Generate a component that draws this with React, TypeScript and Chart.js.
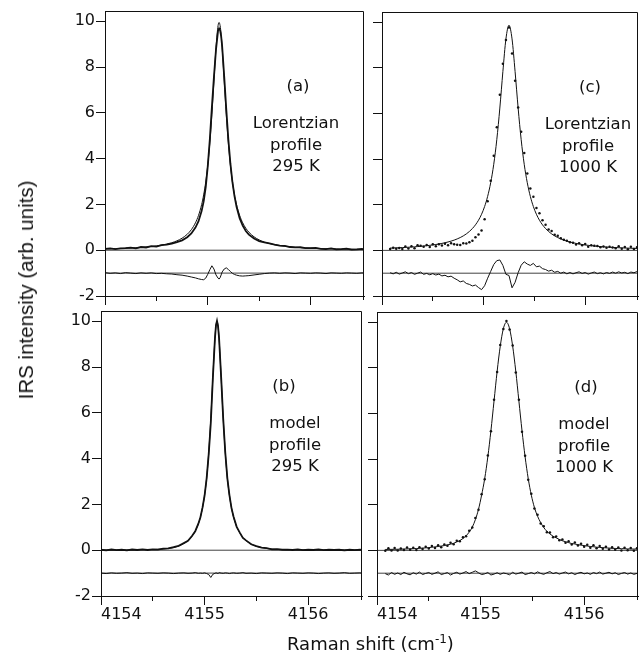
import React, { useEffect, useRef } from 'react';
import { Chart, registerables } from 'chart.js';

Chart.register(...registerables);

// ---------- axes ----------
const X_MIN = 4154;
const X_MAX = 4156.52;
const Y_MIN = -2;
const Y_MAX = 10.45;
const X_STEP = 0.5;
const Y_STEP = 2;
const X_TICK_LABELS = [4154, 4155, 4156];
const REF_LEVELS = [0, -1];

// ---------- 295 K panels (a), (b) ----------
const X_COLD = [
  4154.0, 4154.05, 4154.1, 4154.15, 4154.2, 4154.25, 4154.3, 4154.35, 4154.4, 4154.45,
  4154.5, 4154.55, 4154.6, 4154.65, 4154.7, 4154.75, 4154.8, 4154.84, 4154.88, 4154.91,
  4154.94, 4154.96, 4154.98, 4155.0, 4155.02, 4155.04, 4155.06, 4155.08, 4155.1, 4155.11,
  4155.12, 4155.13, 4155.14, 4155.16, 4155.18, 4155.2, 4155.22, 4155.24, 4155.26, 4155.28,
  4155.31, 4155.34, 4155.37, 4155.4, 4155.45, 4155.5, 4155.55, 4155.6, 4155.65, 4155.7,
  4155.75, 4155.8, 4155.85, 4155.9, 4155.95, 4156.0, 4156.05, 4156.1, 4156.15, 4156.2,
  4156.25, 4156.3, 4156.35, 4156.4, 4156.45, 4156.5, 4156.53,
];

const A_DATA = [
  0.06, 0.08, 0.05, 0.08, 0.09, 0.11, 0.08, 0.14, 0.12, 0.18,
  0.16, 0.22, 0.24, 0.29, 0.35, 0.43, 0.57, 0.73, 0.99, 1.27,
  1.71, 2.13, 2.76, 3.67, 4.84, 6.25, 7.57, 8.77, 9.59, 9.69,
  9.61, 9.35, 8.9, 7.57, 6.16, 4.85, 3.79, 2.97, 2.36, 1.9,
  1.4, 1.07, 0.84, 0.68, 0.51, 0.4, 0.34, 0.3, 0.24, 0.2,
  0.19, 0.14, 0.12, 0.13, 0.09, 0.09, 0.1, 0.06, 0.05, 0.08,
  0.04, 0.05, 0.07, 0.03, 0.04, 0.06, 0.03,
];
const A_FIT = [
  0.058, 0.064, 0.07, 0.077, 0.086, 0.096, 0.108, 0.123, 0.141, 0.162,
  0.19, 0.224, 0.269, 0.328, 0.41, 0.525, 0.696, 0.897, 1.196, 1.522,
  1.99, 2.419, 2.98, 3.72, 4.69, 5.93, 7.39, 8.85, 9.81, 9.95,
  9.81, 9.43, 8.85, 7.39, 5.93, 4.69, 3.72, 2.98, 2.419, 1.99,
  1.522, 1.196, 0.96, 0.787, 0.585, 0.451, 0.358, 0.291, 0.24, 0.202,
  0.172, 0.149, 0.13, 0.114, 0.101, 0.09, 0.081, 0.073, 0.066, 0.06,
  0.055, 0.0505, 0.0466, 0.043, 0.04, 0.037, 0.0355,
];
const A_RESID = [
  -0.98, -1.01, -0.99, -1.02, -0.98, -1.0, -1.02, -0.99, -1.01, -0.99,
  -1.02, -1.01, -1.03, -1.04, -1.07, -1.09, -1.13, -1.17, -1.21, -1.25,
  -1.28, -1.29, -1.22, -1.05, -0.85, -0.68, -0.82, -1.08, -1.22, -1.26,
  -1.2, -1.08, -0.95, -0.82, -0.77, -0.84, -0.93, -1.01, -1.06, -1.09,
  -1.12, -1.13, -1.12, -1.11, -1.08, -1.05, -1.02, -1.0, -0.99, -1.01,
  -0.99, -1.0, -1.02, -0.99, -1.0, -1.01, -0.99, -1.0, -1.02, -0.99,
  -1.0, -1.01, -0.99, -1.0, -1.01, -0.99, -1.0,
];

const B_DATA = [
  0.02, -0.01, 0.03, 0.0, 0.02, -0.01, 0.03, 0.01, 0.04, 0.01,
  0.04, 0.03, 0.07, 0.08, 0.13, 0.19, 0.31, 0.41, 0.63, 0.83,
  1.16, 1.44, 1.86, 2.38, 3.14, 4.2, 5.56, 7.52, 9.24, 9.82,
  10.02, 9.79, 9.26, 7.56, 5.74, 4.26, 3.14, 2.41, 1.84, 1.46,
  1.02, 0.77, 0.54, 0.43, 0.26, 0.18, 0.11, 0.09, 0.04, 0.05,
  0.02, 0.03, 0.01, 0.03, 0.0, 0.02, 0.01, 0.03, 0.0, 0.02,
  0.01, 0.02, -0.01, 0.02, 0.0, 0.02, 0.01,
];
const B_FIT = [
  0.01, 0.01, 0.01, 0.01, 0.01, 0.01, 0.015, 0.015, 0.02, 0.025,
  0.03, 0.04, 0.05, 0.08, 0.11, 0.19, 0.3, 0.42, 0.62, 0.84,
  1.15, 1.45, 1.85, 2.4, 3.15, 4.25, 5.75, 7.55, 9.25, 9.8,
  10.0, 9.8, 9.25, 7.55, 5.75, 4.25, 3.15, 2.4, 1.85, 1.45,
  1.03, 0.76, 0.55, 0.42, 0.27, 0.17, 0.12, 0.08, 0.05, 0.035,
  0.03, 0.02, 0.02, 0.015, 0.01, 0.01, 0.01, 0.01, 0.01, 0.01,
  0.01, 0.01, 0.01, 0.01, 0.01, 0.01, 0.01,
];
const B_RESID = [
  -1.0, -1.02, -0.99, -1.01, -1.0, -0.98, -1.01, -1.0, -1.02, -0.99,
  -1.0, -1.01, -0.99, -1.0, -1.02, -1.0, -0.99, -1.01, -1.0, -0.98,
  -1.01, -1.0, -1.01, -0.99, -1.02, -1.06, -1.19, -1.05, -1.01, -0.99,
  -1.0, -1.02, -0.98, -1.0, -1.01, -0.99, -1.0, -1.02, -1.0, -0.99,
  -1.01, -1.0, -0.98, -1.01, -1.0, -1.02, -0.99, -1.0, -1.01, -0.99,
  -1.0, -1.02, -0.99, -1.0, -1.01, -0.99, -1.0, -1.02, -1.0, -0.99,
  -1.01, -1.0, -0.98, -1.01, -1.0, -0.99, -1.01,
];

// ---------- 1000 K panels (c), (d) ----------
const X_HOT = [
  4154.08, 4154.11, 4154.14, 4154.17, 4154.2, 4154.23, 4154.26, 4154.29, 4154.32, 4154.35,
  4154.38, 4154.41, 4154.44, 4154.47, 4154.5, 4154.53, 4154.56, 4154.59, 4154.62, 4154.65,
  4154.68, 4154.71, 4154.74, 4154.77, 4154.8, 4154.83, 4154.86, 4154.89, 4154.92, 4154.95,
  4154.98, 4155.01, 4155.04, 4155.07, 4155.1, 4155.13, 4155.16, 4155.19, 4155.22, 4155.25,
  4155.28, 4155.31, 4155.34, 4155.37, 4155.4, 4155.43, 4155.46, 4155.49, 4155.52, 4155.55,
  4155.58, 4155.61, 4155.64, 4155.67, 4155.7, 4155.73, 4155.76, 4155.79, 4155.82, 4155.85,
  4155.88, 4155.91, 4155.94, 4155.97, 4156.0, 4156.03, 4156.06, 4156.09, 4156.12, 4156.15,
  4156.18, 4156.21, 4156.24, 4156.27, 4156.3, 4156.33, 4156.36, 4156.39, 4156.42, 4156.45,
  4156.48, 4156.51,
];

const C_DATA = [
  0.06, 0.12, 0.07, 0.1, 0.06, 0.17, 0.08, 0.18, 0.09, 0.22,
  0.2, 0.16, 0.24, 0.15, 0.27, 0.18, 0.27, 0.21, 0.29, 0.23,
  0.31, 0.27, 0.25, 0.24, 0.31, 0.3, 0.36, 0.42, 0.58, 0.7,
  0.87, 1.37, 2.15, 3.05, 4.15, 5.4, 6.82, 8.18, 9.22, 9.77,
  8.63, 7.44, 6.26, 5.2, 4.27, 3.37, 2.71, 2.35, 1.86, 1.63,
  1.32, 1.12, 0.92, 0.85, 0.68, 0.64, 0.53, 0.47, 0.42, 0.36,
  0.33, 0.26, 0.31, 0.22, 0.28, 0.16, 0.23, 0.2, 0.19, 0.14,
  0.17, 0.12, 0.16, 0.13, 0.09, 0.18, 0.07, 0.15, 0.05, 0.16,
  0.06, 0.14,
];
const C_FIT = [
  0.099, 0.105, 0.11, 0.116, 0.123, 0.13, 0.138, 0.147, 0.156, 0.167,
  0.178, 0.191, 0.205, 0.221, 0.238, 0.258, 0.281, 0.306, 0.335, 0.368,
  0.406, 0.45, 0.502, 0.562, 0.635, 0.722, 0.828, 0.958, 1.119, 1.322,
  1.583, 1.921, 2.369, 2.967, 3.773, 4.853, 6.24, 7.842, 9.271, 9.87,
  9.271, 7.842, 6.24, 4.853, 3.773, 2.967, 2.369, 1.921, 1.583, 1.322,
  1.119, 0.958, 0.828, 0.722, 0.635, 0.562, 0.502, 0.45, 0.406, 0.368,
  0.335, 0.306, 0.281, 0.258, 0.238, 0.221, 0.205, 0.191, 0.178, 0.167,
  0.156, 0.147, 0.138, 0.13, 0.123, 0.116, 0.11, 0.105, 0.099, 0.095,
  0.09, 0.086,
];
const C_RESID = [
  -0.98, -1.03, -0.96, -1.04, -0.99, -0.94, -1.02, -0.97, -1.05, -1.0,
  -0.95, -1.05, -1.01, -1.07, -1.02, -1.08, -1.04, -1.12, -1.09, -1.16,
  -1.13, -1.22, -1.29, -1.38, -1.34, -1.45, -1.49, -1.56, -1.52, -1.63,
  -1.72, -1.55, -1.22, -0.92, -0.62, -0.45, -0.42, -0.66, -1.05, -1.1,
  -1.64, -1.4, -0.98, -0.65, -0.5, -0.6, -0.66, -0.57, -0.72, -0.69,
  -0.8, -0.84, -0.91, -0.87, -0.96, -0.92, -1.0, -0.95, -1.03, -0.97,
  -1.03, -0.98, -0.94, -1.01, -0.97, -1.04, -0.99, -0.95, -1.02, -0.98,
  -1.03, -0.97, -1.01, -0.95, -1.0, -0.94, -0.99, -0.96, -1.02, -0.95,
  -0.98, -0.93,
];

const D_DATA = [
  -0.02, 0.09, 0.0, 0.1, -0.01, 0.08, 0.02, 0.13, 0.03, 0.11,
  0.02, 0.14, 0.06, 0.16, 0.08, 0.19, 0.1, 0.22, 0.14, 0.26,
  0.2, 0.33, 0.27, 0.42, 0.4, 0.58, 0.62, 0.86, 1.0, 1.42,
  1.78, 2.46, 3.12, 4.16, 5.22, 6.6, 7.82, 9.0, 9.7, 10.05,
  9.68, 8.98, 7.8, 6.6, 5.2, 4.15, 3.1, 2.48, 1.84, 1.56,
  1.18, 1.06, 0.8, 0.78, 0.58, 0.61, 0.44, 0.48, 0.33, 0.4,
  0.26, 0.34, 0.21, 0.29, 0.16, 0.25, 0.12, 0.22, 0.09, 0.19,
  0.07, 0.16, 0.04, 0.14, 0.03, 0.13, 0.0, 0.12, 0.01, 0.1,
  -0.02, 0.09,
];
const D_FIT = [
  0.04, 0.043, 0.045, 0.048, 0.05, 0.055, 0.06, 0.065, 0.07, 0.075,
  0.08, 0.09, 0.1, 0.11, 0.12, 0.14, 0.15, 0.17, 0.19, 0.21,
  0.24, 0.27, 0.31, 0.37, 0.43, 0.52, 0.64, 0.8, 1.02, 1.35,
  1.8, 2.42, 3.15, 4.1, 5.25, 6.55, 7.85, 8.95, 9.72, 10.0,
  9.72, 8.95, 7.85, 6.55, 5.25, 4.1, 3.15, 2.42, 1.88, 1.5,
  1.22, 1.0, 0.84, 0.72, 0.62, 0.55, 0.48, 0.42, 0.38, 0.34,
  0.3, 0.28, 0.25, 0.23, 0.21, 0.19, 0.17, 0.16, 0.14, 0.13,
  0.12, 0.11, 0.1, 0.09, 0.085, 0.08, 0.075, 0.07, 0.065, 0.06,
  0.058, 0.055,
];
const D_RESID = [
  -1.02, -1.08, -0.97, -1.05, -0.99, -1.06, -0.96, -1.03, -1.07, -0.98,
  -1.04, -0.95, -1.06, -1.01, -0.97, -1.05, -1.0, -0.94, -1.06, -1.02,
  -0.97, -1.08, -1.01, -0.96, -1.04, -0.99, -0.93, -1.02, -0.96, -0.9,
  -0.98, -1.06, -1.03, -0.97, -1.08, -1.04, -0.98, -1.05, -0.99, -1.02,
  -1.07, -0.96, -1.04, -1.0, -0.95, -1.06, -1.02, -0.97, -1.03, -0.94,
  -1.01, -1.05, -0.98, -0.93, -1.02, -0.97, -1.04, -0.99, -0.95, -1.03,
  -0.98, -1.06, -1.0, -0.96, -1.03, -0.99, -1.05, -0.97, -1.02, -0.95,
  -1.04, -1.0, -0.96, -1.03, -0.98, -1.06, -1.01, -0.97, -1.04, -0.99,
  -1.05, -1.01,
];

// ---------- texts ----------
const PANEL_LABELS = ['(a)', '(b)', '(c)', '(d)'];
const PANEL_LINES = [
  ['Lorentzian', 'profile', '295 K'],
  ['model', 'profile', '295 K'],
  ['Lorentzian', 'profile', '1000 K'],
  ['model', 'profile', '1000 K'],
];

// ---------- layout / style ----------
const INK = '#111111';
const TICK_FONT = { family: 'DejaVu Sans', size: 16 };
const TEXT_FONT = '16.5px "DejaVu Sans"';
const LABEL_DY = 80;
const LINE_DY = [117, 139, 160];

type Spec = {
  idx: number;
  left: number;
  top: number;
  w: number;
  h: number;
  leftCol: boolean;
  bottomRow: boolean;
  labelDx: number;
  textDx: number;
  xs: number[];
  data: number[];
  fit: number[];
  resid: number[];
  dots: boolean;
};

const PANELS: Spec[] = [
  { idx: 0, left: 105, top: 11, w: 259, h: 285, leftCol: true, bottomRow: false, labelDx: 193, textDx: 191, xs: X_COLD, data: A_DATA, fit: A_FIT, resid: A_RESID, dots: false },
  { idx: 1, left: 101, top: 311, w: 261, h: 285, leftCol: true, bottomRow: true, labelDx: 183, textDx: 194, xs: X_COLD, data: B_DATA, fit: B_FIT, resid: B_RESID, dots: false },
  { idx: 2, left: 382, top: 12, w: 258, h: 284, leftCol: false, bottomRow: false, labelDx: 208, textDx: 206, xs: X_HOT, data: C_DATA, fit: C_FIT, resid: C_RESID, dots: true },
  { idx: 3, left: 377, top: 312, w: 263, h: 284, leftCol: false, bottomRow: true, labelDx: 209, textDx: 207, xs: X_HOT, data: D_DATA, fit: D_FIT, resid: D_RESID, dots: true },
];

const near = (a: number, b: number) => Math.abs(a - b) < 1e-6;
const isMajor = (v: number) => X_TICK_LABELS.some((l) => near(l, v));
// leading figure-width padding so that the first label starts at its tick
const FIRST_PAD = '        ';

function pts(xs: number[], ys: number[]) {
  return xs.map((x, i) => ({ x, y: ys[i] }));
}

function Panel({ s }: { s: Spec }) {
  const ref = useRef<HTMLCanvasElement | null>(null);
  const ML = s.leftCol ? s.left : 60;
  const MR = s.leftCol ? 3 : 2;
  const MT = 6;
  const MB = s.bottomRow ? 40 : 14;
  const W = ML + s.w + MR;
  const H = MT + s.h + MB;

  useEffect(() => {
    if (!ref.current) return;
    const boxPlugin = {
      id: 'panelBox',
      afterDatasetsDraw(chart: any) {
        const { ctx, chartArea } = chart;
        const { left, top, right, bottom } = chartArea;
        ctx.save();
        ctx.strokeStyle = INK;
        ctx.lineWidth = 1;
        ctx.beginPath();
        ctx.moveTo(Math.round(left), Math.round(top) + 0.5);
        ctx.lineTo(Math.round(right) - 0.5, Math.round(top) + 0.5);
        ctx.lineTo(Math.round(right) - 0.5, Math.round(bottom) + 4);
        ctx.stroke();
        ctx.restore();
      },
    };
    const textPlugin = {
      id: 'panelText',
      afterDraw(chart: any) {
        const { ctx, chartArea } = chart;
        ctx.save();
        ctx.fillStyle = INK;
        ctx.font = TEXT_FONT;
        ctx.textAlign = 'center';
        ctx.textBaseline = 'alphabetic';
        ctx.fillText(PANEL_LABELS[s.idx], chartArea.left + s.labelDx, chartArea.top + LABEL_DY);
        PANEL_LINES[s.idx].forEach((t, i) => {
          ctx.fillText(t, chartArea.left + s.textDx, chartArea.top + LINE_DY[i]);
        });
        ctx.restore();
      },
    };

    const datasets: any[] = [];
    REF_LEVELS.forEach((lvl) => {
      datasets.push({
        data: [
          { x: X_MIN, y: lvl },
          { x: X_MAX, y: lvl },
        ],
        showLine: true,
        borderColor: INK,
        borderWidth: 0.8,
        pointRadius: 0,
      });
    });
    datasets.push({
      data: pts(s.xs, s.fit),
      showLine: true,
      borderColor: INK,
      borderWidth: 1,
      pointRadius: 0,
      cubicInterpolationMode: 'monotone',
    });
    if (s.dots) {
      datasets.push({
        data: pts(s.xs, s.data),
        showLine: false,
        pointRadius: 1.25,
        pointBorderWidth: 0,
        pointBackgroundColor: INK,
        backgroundColor: INK,
        borderColor: INK,
      });
    } else {
      datasets.push({
        data: pts(s.xs, s.data),
        showLine: true,
        borderColor: INK,
        borderWidth: 1.8,
        pointRadius: 0,
      });
    }
    datasets.push({
      data: pts(s.xs, s.resid),
      showLine: true,
      borderColor: INK,
      borderWidth: 1,
      pointRadius: 0,
    });

    const zeroPad = (sc: any) => {
      sc.paddingLeft = 0;
      sc.paddingRight = 0;
      sc.paddingTop = 0;
      sc.paddingBottom = 0;
    };

    const chart = new Chart(ref.current, {
      type: 'scatter',
      data: { datasets },
      plugins: [boxPlugin, textPlugin],
      options: {
        animation: false,
        responsive: false,
        devicePixelRatio: 1,
        events: [],
        layout: { padding: { left: 0, top: MT, right: MR, bottom: 0 } },
        plugins: {
          legend: { display: false },
          tooltip: { enabled: false },
          title: { display: false },
        },
        scales: {
          x: {
            type: 'linear',
            position: 'bottom',
            min: X_MIN,
            max: X_MAX,
            ticks: {
              stepSize: X_STEP,
              includeBounds: false,
              autoSkip: false,
              maxRotation: 0,
              minRotation: 0,
              padding: 0,
              color: INK,
              font: TICK_FONT,
              callback: (v: any) => {
                const n = Number(v);
                if (!s.bottomRow || !isMajor(n)) return '';
                return near(n, X_MIN) ? FIRST_PAD + String(Math.round(n)) : String(Math.round(n));
              },
            },
            grid: {
              drawOnChartArea: false,
              drawTicks: true,
              tickLength: 9,
              tickWidth: 1,
              tickColor: (ctx: any) => (ctx.tick && ctx.tick.value > X_MAX - 0.1 ? 'rgba(0,0,0,0)' : INK),
              tickBorderDash: (ctx: any) => (ctx.tick && !isMajor(ctx.tick.value) ? [4, 40] : []),
            },
            border: { display: true, color: INK, width: 1 },
            afterFit: (sc: any) => {
              sc.height = MB;
              zeroPad(sc);
            },
          },
          y: {
            type: 'linear',
            position: 'left',
            min: Y_MIN,
            max: Y_MAX,
            ticks: {
              stepSize: Y_STEP,
              includeBounds: false,
              display: s.leftCol,
              padding: 1,
              color: INK,
              font: TICK_FONT,
              callback: (v: any) => String(v),
            },
            grid: {
              drawOnChartArea: false,
              drawTicks: true,
              tickLength: 9,
              tickWidth: 1,
              tickColor: INK,
            },
            border: { display: true, color: INK, width: 1 },
            afterFit: (sc: any) => {
              sc.width = ML;
              zeroPad(sc);
            },
          },
        },
      } as any,
    });
    return () => chart.destroy();
  }, []);

  return (
    <canvas
      ref={ref}
      width={W}
      height={H}
      style={{ position: 'absolute', left: s.left - ML, top: s.top - MT, width: W, height: H }}
    />
  );
}

export default function App() {
  return (
    <div
      style={{
        position: 'absolute',
        left: 0,
        top: 0,
        width: 642,
        height: 657,
        background: '#ffffff',
        overflow: 'hidden',
      }}
    >
      {PANELS.map((s) => (
        <Panel key={s.idx} s={s} />
      ))}
      <div
        style={{
          position: 'absolute',
          left: 26,
          top: 290,
          transform: 'translate(-50%, -50%) rotate(-90deg)',
          whiteSpace: 'nowrap',
          fontFamily: '"Liberation Sans", Arial, sans-serif',
          fontSize: '20.5px',
          color: INK,
        }}
      >
        IRS intensity (arb. units)
      </div>
      <div
        style={{
          position: 'absolute',
          left: 287,
          top: 635,
          whiteSpace: 'nowrap',
          fontFamily: '"DejaVu Sans", sans-serif',
          fontSize: '18px',
          lineHeight: '18px',
          color: INK,
        }}
      >
        Raman shift (cm
        <span style={{ fontSize: '12px', position: 'relative', top: '-7px' }}>-1</span>)
      </div>
    </div>
  );
}
